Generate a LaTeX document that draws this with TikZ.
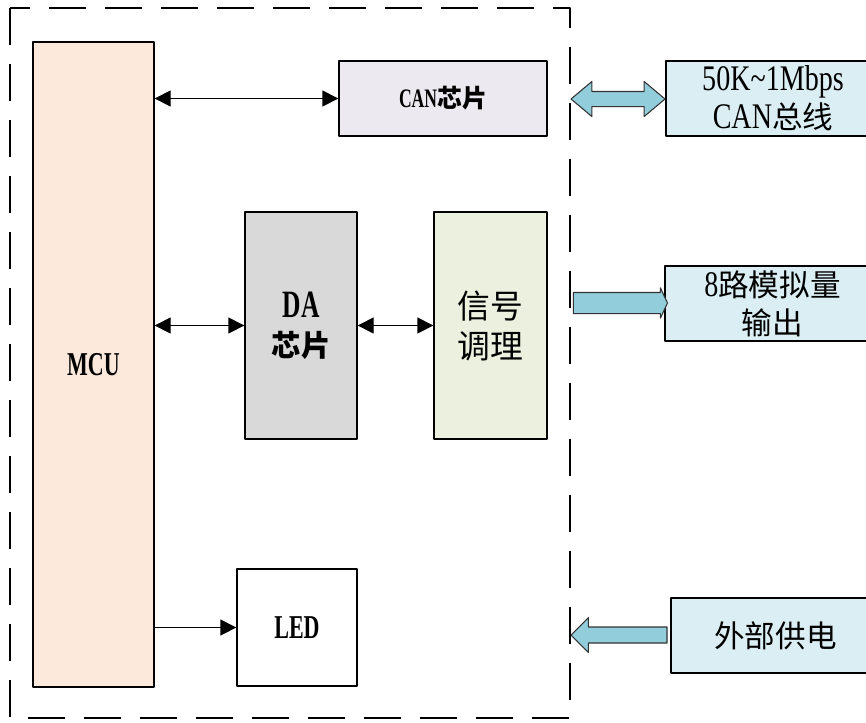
\documentclass[tikz,border=0pt]{standalone}
\usepackage{fontspec}
\setmainfont[FakeStretch=0.78, BoldFeatures={FakeStretch=0.66}]{Liberation Serif}
\newfontfamily\cjk[Scale=0.85]{Noto Sans CJK SC}
\usetikzlibrary{arrows.meta, shapes.arrows}
\definecolor{mcufill}{HTML}{FCE9DB}
\definecolor{canfill}{HTML}{ECE9F0}
\definecolor{dafill}{HTML}{D9D9D9}
\definecolor{sigfill}{HTML}{EBF1DE}
\definecolor{extfill}{HTML}{DBEEF3}
\definecolor{pipefill}{HTML}{92CDDC}
\begin{document}
\begin{tikzpicture}[x=0.75pt, y=-0.75pt, line join=round,
    >={Triangle[length=12pt,width=12pt]},
    box/.style={draw, line width=1pt, inner sep=0pt, align=center},
    link/.style={line width=1pt},
    pipe/.style={draw=black!80, line width=0.8pt, fill=pipefill, inner xsep=0pt}]
  \useasboundingbox (0,0) rectangle (866,722);
  \clip (0,0) rectangle (866,722);
  % board frame
  \draw[line width=1.5pt, dash pattern=on 28pt off 14pt] (10,8) rectangle (570,718);
  % blocks on the board
  \node[box, fill=mcufill, minimum width=90.75pt, minimum height=483.75pt,
        font=\bfseries\fontsize{25}{28}\selectfont] (mcu) at (93.5,364.5) {MCU};
  \node[box, fill=canfill, minimum width=156pt, minimum height=56.25pt,
        font=\bfseries\fontsize{20}{24}\selectfont] (can) at (443,98.5)
        {CAN{\cjk\fontsize{22}{26}\selectfont 芯片}};
  \node[box, fill=dafill, minimum width=84pt, minimum height=170.25pt,
        font=\bfseries\fontsize{29}{29}\selectfont] (da) at (301,325.5)
        {DA\\{\cjk\fontsize{26}{29}\selectfont 芯片}};
  \node[box, fill=sigfill, minimum width=84.75pt, minimum height=170.25pt,
        font=\cjk\fontsize{29}{30}\selectfont] (sig) at (490.5,325.5) {信号\\调理};
  \node[box, minimum width=90pt, minimum height=87.75pt,
        font=\bfseries\fontsize{25}{28}\selectfont] (led) at (297,627.5) {LED};
  % outside
  \node[box, fill=extfill, minimum width=160.5pt, minimum height=56.25pt,
        font=\fontsize{27}{28.5}\selectfont] (bus) at (773,98.5)
        {50K\textasciitilde1Mbps\\CAN{\cjk 总线}};
  \node[box, fill=extfill, minimum width=161.25pt, minimum height=56.25pt,
        font=\fontsize{27}{28.5}\selectfont] (aout) at (772.5,303.5)
        {8{\cjk 路模拟量}\\{\cjk 输出}};
  \node[box, fill=extfill, minimum width=156.75pt, minimum height=56.25pt,
        font=\fontsize{27}{28.5}\selectfont] (pwr) at (775.5,635.5) {{\cjk 外部供电}};
  % links
  \draw[link, <->] (mcu.east |- can.west) -- (can.west);
  \draw[link, <->] (mcu.east |- da.west) -- (da.west);
  \draw[link, <->] (da.east) -- (sig.west);
  \draw[link, ->] (mcu.east |- led.west) -- (led.west);
  % block arrows through the frame
  \node[pipe, double arrow, minimum height=70.5pt, inner ysep=5.25pt,
        double arrow head extend=7.5pt, double arrow tip angle=80] (busio) at (618,99) {};
  \node[pipe, single arrow, minimum height=70.5pt, inner ysep=7.5pt,
        single arrow head extend=3.5pt, single arrow tip angle=130] (aoutio) at (618,303) {};
  \node[pipe, single arrow, shape border rotate=180, minimum height=72pt, inner ysep=5.6pt,
        single arrow head extend=7pt] (pwrio) at (623,635) {};
\end{tikzpicture}
\end{document}
